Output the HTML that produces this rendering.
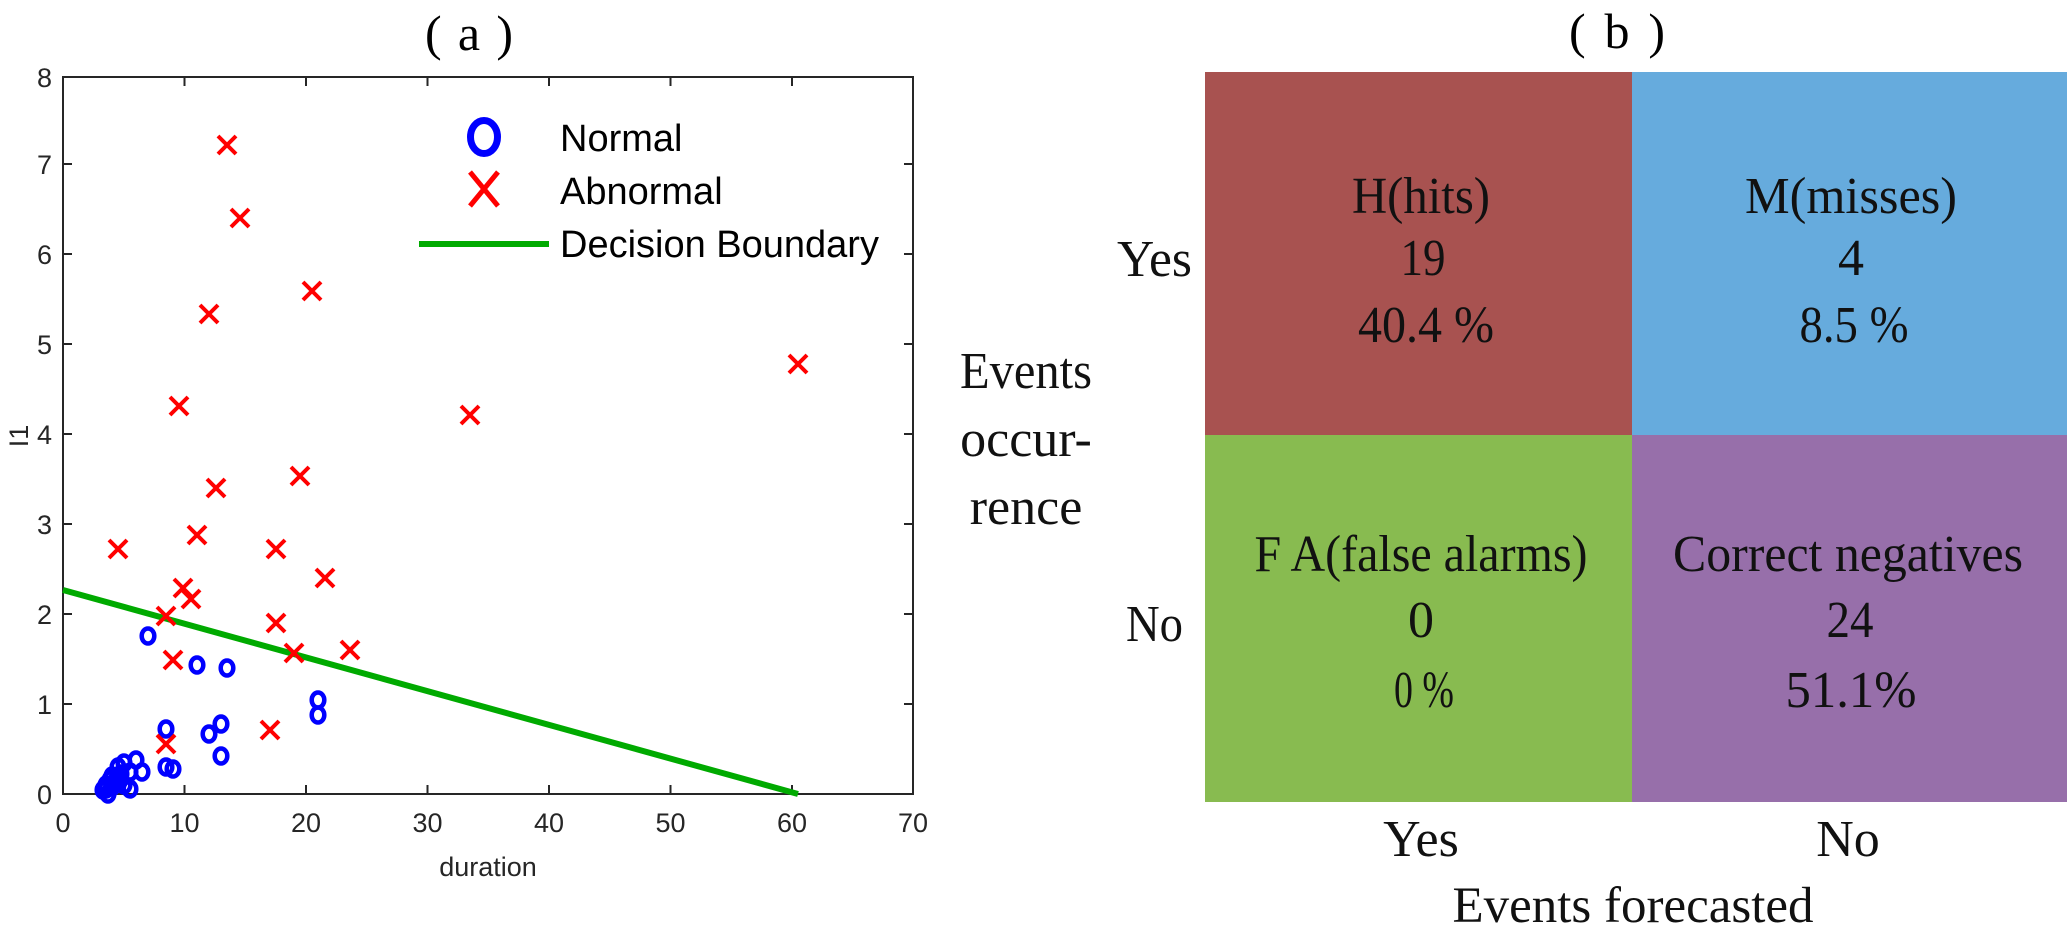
<!DOCTYPE html>
<html><head><meta charset="utf-8"><style>
html,body{margin:0;padding:0;background:#fff;}
svg{display:block;}
</style></head><body>
<svg width="2067" height="927" viewBox="0 0 2067 927" xmlns="http://www.w3.org/2000/svg">
<defs>
<g id="cx"><path d="M-9,-9L9,9M-9,9L9,-9" stroke="#ff0000" stroke-width="4" fill="none"/></g>
<g id="ci"><ellipse cx="0" cy="0" rx="6.3" ry="7.5" stroke="#0000ff" stroke-width="4.5" fill="none"/></g>
</defs>
<text x="425" y="50" textLength="88" lengthAdjust="spacing" font-family="Liberation Serif, serif" font-size="50">(a)</text>
<text x="1569" y="48" textLength="96" lengthAdjust="spacing" font-family="Liberation Serif, serif" font-size="50">(b)</text>

<rect x="63" y="77" width="850" height="717" fill="none" stroke="#262626" stroke-width="2"/>
<g stroke="#262626" stroke-width="2">
<path d="M184.5,794v-9M306,794v-9M427.5,794v-9M549,794v-9M670.5,794v-9M792,794v-9"/>
<path d="M184.5,77v9M306,77v9M427.5,77v9M549,77v9M670.5,77v9M792,77v9"/>
<path d="M63,704h9M63,614h9M63,524h9M63,434h9M63,344h9M63,254h9M63,164h9"/>
<path d="M913,704h-9M913,614h-9M913,524h-9M913,434h-9M913,344h-9M913,254h-9M913,164h-9"/>
</g>
<g font-family="Liberation Sans, sans-serif" font-size="27" fill="#262626" text-anchor="middle">
<text x="63" y="832">0</text><text x="184.5" y="832">10</text><text x="306" y="832">20</text><text x="427.5" y="832">30</text><text x="549" y="832">40</text><text x="670.5" y="832">50</text><text x="792" y="832">60</text><text x="913" y="832">70</text>
<text x="488" y="876">duration</text>
</g>
<g font-family="Liberation Sans, sans-serif" font-size="27" fill="#262626" text-anchor="end">
<text x="52" y="804">0</text><text x="52" y="714">1</text><text x="52" y="624">2</text><text x="52" y="534">3</text><text x="52" y="444">4</text><text x="52" y="354">5</text><text x="52" y="264">6</text><text x="52" y="174">7</text><text x="52" y="87">8</text>
</g>
<text transform="translate(28,436) rotate(-90)" font-family="Liberation Sans, sans-serif" font-size="27" fill="#262626" text-anchor="middle">I1</text>

<line x1="63" y1="590" x2="798" y2="794" stroke="#00aa00" stroke-width="6"/>

<g>
<use href="#ci" x="148" y="636"/><use href="#ci" x="197" y="665"/><use href="#ci" x="227" y="668"/>
<use href="#ci" x="318" y="700"/><use href="#ci" x="318" y="715"/><use href="#ci" x="166" y="729"/>
<use href="#ci" x="221" y="724"/><use href="#ci" x="209" y="734"/><use href="#ci" x="221" y="756"/>
<use href="#ci" x="166" y="767"/><use href="#ci" x="173" y="769"/><use href="#ci" x="136" y="760"/>
<use href="#ci" x="142" y="772"/><use href="#ci" x="124" y="763"/><use href="#ci" x="118" y="767"/>
<use href="#ci" x="130" y="772"/><use href="#ci" x="112" y="776"/><use href="#ci" x="106" y="785"/>
<use href="#ci" x="106" y="789"/><use href="#ci" x="112" y="787"/><use href="#ci" x="118" y="780"/>
<use href="#ci" x="124" y="785"/><use href="#ci" x="130" y="789"/><use href="#ci" x="108" y="794"/>
<use href="#ci" x="114" y="783"/><use href="#ci" x="121" y="774"/><use href="#ci" x="103" y="790"/>
<use href="#ci" x="110" y="780"/>
</g>
<g>
<use href="#cx" x="227" y="145"/><use href="#cx" x="240" y="218"/><use href="#cx" x="312" y="291"/>
<use href="#cx" x="209" y="314"/><use href="#cx" x="798" y="364"/><use href="#cx" x="179" y="406"/>
<use href="#cx" x="470" y="415"/><use href="#cx" x="300" y="476"/><use href="#cx" x="216" y="488"/>
<use href="#cx" x="197" y="535"/><use href="#cx" x="118" y="549"/><use href="#cx" x="276" y="549"/>
<use href="#cx" x="325" y="578"/><use href="#cx" x="183" y="588"/><use href="#cx" x="191" y="599"/>
<use href="#cx" x="166" y="616"/><use href="#cx" x="276" y="623"/><use href="#cx" x="294" y="653"/>
<use href="#cx" x="350" y="650"/><use href="#cx" x="173" y="660"/><use href="#cx" x="270" y="730"/>
<use href="#cx" x="166" y="744"/>
</g>

<ellipse cx="484" cy="137" rx="13.5" ry="16.5" stroke="#0000ff" stroke-width="7" fill="none"/>
<path d="M470,172L498,206M470,206L498,172" stroke="#ff0000" stroke-width="5" fill="none"/>
<line x1="419" y1="244" x2="549" y2="244" stroke="#00aa00" stroke-width="6"/>
<g font-family="Liberation Sans, sans-serif" font-size="38" fill="#000">
<text x="560" y="151">Normal</text><text x="560" y="204">Abnormal</text><text x="560" y="257">Decision Boundary</text>
</g>

<rect x="1205" y="72" width="427" height="363" fill="#a85250"/>
<rect x="1632" y="72" width="435" height="363" fill="#66abdd"/>
<rect x="1205" y="435" width="427" height="367" fill="#88bb50"/>
<rect x="1632" y="435" width="435" height="367" fill="#976faa"/>
<g font-family="Liberation Serif, serif" font-size="52" fill="#111" text-anchor="middle">
<text x="1421" y="213" textLength="138" lengthAdjust="spacingAndGlyphs">H(hits)</text>
<text x="1423" y="275" textLength="45" lengthAdjust="spacingAndGlyphs">19</text>
<text x="1426" y="342" textLength="136" lengthAdjust="spacingAndGlyphs">40.4 %</text>
<text x="1851" y="213" textLength="212" lengthAdjust="spacingAndGlyphs">M(misses)</text>
<text x="1851" y="275">4</text>
<text x="1854" y="342" textLength="109" lengthAdjust="spacingAndGlyphs">8.5 %</text>
<text x="1421" y="571" textLength="333" lengthAdjust="spacingAndGlyphs">F A(false alarms)</text>
<text x="1421" y="637">0</text>
<text x="1424" y="707" textLength="60" lengthAdjust="spacingAndGlyphs">0 %</text>
<text x="1848" y="571" textLength="350" lengthAdjust="spacingAndGlyphs">Correct negatives</text>
<text x="1850" y="637" textLength="47" lengthAdjust="spacingAndGlyphs">24</text>
<text x="1851" y="707" textLength="131" lengthAdjust="spacingAndGlyphs">51.1%</text>
</g>
<g font-family="Liberation Serif, serif" font-size="52" fill="#111" text-anchor="middle">
<text x="1421" y="856">Yes</text><text x="1848" y="856">No</text>
<text x="1633" y="922" font-size="51">Events forecasted</text>
<text x="1026" y="388" textLength="132" lengthAdjust="spacingAndGlyphs">Events</text>
<text x="1026" y="456">occur-</text><text x="1026" y="524">rence</text>
</g>
<g font-family="Liberation Serif, serif" font-size="52" fill="#111" text-anchor="start">
<text x="1117" y="276" textLength="75" lengthAdjust="spacingAndGlyphs">Yes</text><text x="1126" y="641" textLength="57" lengthAdjust="spacingAndGlyphs">No</text>
</g>
</svg>
</body></html>
